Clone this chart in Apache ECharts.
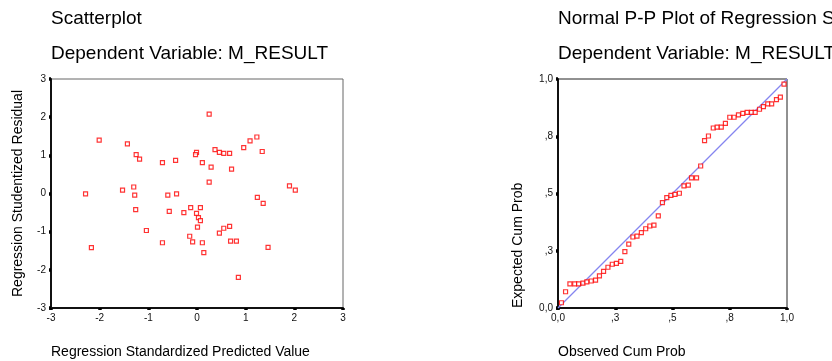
<!DOCTYPE html>
<html lang="en">
<head>
    <meta charset="UTF-8">
    <title>Scatterplot and Normal P-P Plot</title>
    <script src="https://cdn.jsdelivr.net/npm/echarts@6/dist/echarts.min.js"></script>
    <style>
        html, body { margin: 0; padding: 0; background: #fff; }
        #main { width: 832px; height: 361px; }
    </style>
</head>
<body>
<div id="main"></div>
<script type="text/javascript">
    // standardized predicted value vs studentized residual
    var predX = [-2.29, -2.01, -1.43, -1.25, -1.18, -0.71, -0.44, -1.53, -1.30, -1.28, -0.60, -0.42,
        -1.26, -0.57, -1.04, -0.71, -2.17, 0.25, 1.23, 1.09, 0.96, 1.34, 0.37, 0.46, 0.55, 0.67,
        -0.01, -0.03, 0.11, 0.29, 0.71, 0.25, 1.90, 2.02, 1.24, 1.36, -0.13, 0.07, -0.27, -0.01,
        0.03, 0.07, 0.01, 0.67, 0.55, 0.46, -0.15, -0.09, 0.11, 0.69, 0.81, 1.46, 0.14, 0.85];
    var residY = [-0.01, 1.40, 1.30, 1.02, 0.90, 0.81, 0.87, 0.09, 0.17, -0.04, -0.04, -0.01,
        -0.42, -0.47, -0.97, -1.29, -1.42, 2.08, 1.48, 1.38, 1.20, 1.10, 1.15, 1.08, 1.05, 1.05,
        1.08, 1.02, 0.81, 0.69, 0.64, 0.30, 0.20, 0.09, -0.10, -0.26, -0.37, -0.37, -0.50, -0.52,
        -0.63, -0.71, -0.88, -0.86, -0.91, -1.04, -1.12, -1.27, -1.29, -1.25, -1.25, -1.41, -1.55, -2.20];

    // normal P-P plot: observed vs expected cumulative probability
    var observedCum = [0.015, 0.033, 0.052, 0.073, 0.090, 0.109, 0.126, 0.145, 0.164, 0.181, 0.199,
        0.218, 0.237, 0.255, 0.274, 0.292, 0.309, 0.327, 0.345, 0.364, 0.383, 0.401, 0.419, 0.438,
        0.456, 0.475, 0.493, 0.511, 0.530, 0.550, 0.569, 0.583, 0.605, 0.623, 0.640, 0.657, 0.678,
        0.695, 0.713, 0.731, 0.750, 0.769, 0.788, 0.807, 0.826, 0.845, 0.861, 0.880, 0.897, 0.916,
        0.933, 0.954, 0.971, 0.987];
    var expectedCum = [0.023, 0.071, 0.105, 0.105, 0.105, 0.109, 0.114, 0.118, 0.122, 0.140, 0.160,
        0.178, 0.191, 0.195, 0.204, 0.246, 0.279, 0.310, 0.314, 0.329, 0.346, 0.358, 0.362, 0.402,
        0.460, 0.482, 0.492, 0.496, 0.501, 0.533, 0.537, 0.568, 0.568, 0.620, 0.731, 0.751, 0.786,
        0.790, 0.790, 0.806, 0.833, 0.833, 0.843, 0.850, 0.854, 0.854, 0.854, 0.868, 0.879, 0.891,
        0.891, 0.910, 0.921, 0.978];
    var refLine = [[0, 0], [1, 1]];

    // tick labels as printed on the P-P axes (0, .25, .5, .75, 1)
    var ppTickValues = [0, 0.25, 0.5, 0.75, 1];
    var ppTickLabels = ['0,0', ',3', ',5', ',8', '1,0'];

    var FONT = 'Liberation Sans, Arial, sans-serif';

    function pair(xs, ys) {
        var res = [];
        for (var i = 0; i < xs.length; i++) res.push([xs[i], ys[i]]);
        return res;
    }
    function ppLabel(v) {
        for (var i = 0; i < ppTickValues.length; i++) {
            if (Math.abs(ppTickValues[i] - v) < 1e-6) return ppTickLabels[i];
        }
        return '';
    }

    var axisCommon = {
        axisLine: { show: true, onZero: false, lineStyle: { color: '#111', width: 2 } },
        axisTick: { show: true, length: 2, lineStyle: { color: '#000', width: 3.5 } },
        axisLabel: { color: '#111', fontSize: 10, fontFamily: FONT, margin: 5 },
        splitLine: { show: false }
    };
    function makeAxis(extra) {
        return Object.assign({}, JSON.parse(JSON.stringify(axisCommon)), extra);
    }

    var squareStyle = { color: '#fff', borderColor: '#ff0000', borderWidth: 1.2 };

    var myChart = echarts.init(document.getElementById('main'));
    var option = {
        backgroundColor: '#fff',
        animation: false,
        grid: [
            { left: 51, top: 79, width: 292, height: 229, show: true, borderColor: '#666', borderWidth: 1, backgroundColor: 'transparent' },
            { left: 558, top: 79, width: 229, height: 229, show: true, borderColor: '#222', borderWidth: 1, backgroundColor: 'transparent' }
        ],
        xAxis: [
            makeAxis({ gridIndex: 0, type: 'value', min: -3, max: 3, interval: 1 }),
            makeAxis({ gridIndex: 1, type: 'value', min: 0, max: 1, interval: 0.25,
                axisLabel: { color: '#111', fontSize: 10, fontFamily: FONT, margin: 5, formatter: ppLabel } })
        ],
        yAxis: [
            makeAxis({ gridIndex: 0, type: 'value', min: -3, max: 3, interval: 1 }),
            makeAxis({ gridIndex: 1, type: 'value', min: 0, max: 1, interval: 0.25,
                axisLabel: { color: '#111', fontSize: 10, fontFamily: FONT, margin: 5, formatter: ppLabel } })
        ],
        series: [
            {
                type: 'scatter', xAxisIndex: 0, yAxisIndex: 0,
                symbol: 'rect', symbolSize: 4,
                itemStyle: squareStyle,
                data: pair(predX, residY)
            },
            {
                type: 'scatter', xAxisIndex: 1, yAxisIndex: 1,
                symbol: 'rect', symbolSize: 4,
                itemStyle: squareStyle,
                data: pair(observedCum, expectedCum),
                // diagonal reference line
                markLine: {
                    silent: true,
                    symbol: ['none', 'none'],
                    label: { show: false },
                    lineStyle: { color: '#8585f0', width: 1.2, type: 'solid', opacity: 1 },
                    data: [[{ coord: refLine[0] }, { coord: refLine[1] }]],
                    z: 1
                }
            }
        ],
        graphic: [
            { type: 'text', left: 51, top: 9, style: { text: 'Scatterplot', font: '19px ' + FONT, fill: '#000' } },
            { type: 'text', left: 51, top: 44, style: { text: 'Dependent Variable: M_RESULT', font: '19px ' + FONT, fill: '#000' } },
            { type: 'text', left: 558, top: 9, style: { text: 'Normal P-P Plot of Regression Standardized Residual', font: '19px ' + FONT, fill: '#000' } },
            { type: 'text', left: 558, top: 44, style: { text: 'Dependent Variable: M_RESULT', font: '19px ' + FONT, fill: '#000' } },
            { type: 'text', x: 18, y: 193.5, rotation: Math.PI / 2,
                style: { text: 'Regression Studentized Residual', font: '14px ' + FONT, fill: '#000', align: 'center', verticalAlign: 'middle' } },
            { type: 'text', x: 51, y: 352,
                style: { text: 'Regression Standardized Predicted Value', font: '14px ' + FONT, fill: '#000', align: 'left', verticalAlign: 'middle' } },
            { type: 'text', x: 518, y: 308, rotation: Math.PI / 2,
                style: { text: 'Expected Cum Prob', font: '14px ' + FONT, fill: '#000', align: 'left', verticalAlign: 'middle' } },
            { type: 'text', x: 558, y: 352,
                style: { text: 'Observed Cum Prob', font: '14px ' + FONT, fill: '#000', align: 'left', verticalAlign: 'middle' } }
        ]
    };
    myChart.setOption(option);
</script>
</body>
</html>
